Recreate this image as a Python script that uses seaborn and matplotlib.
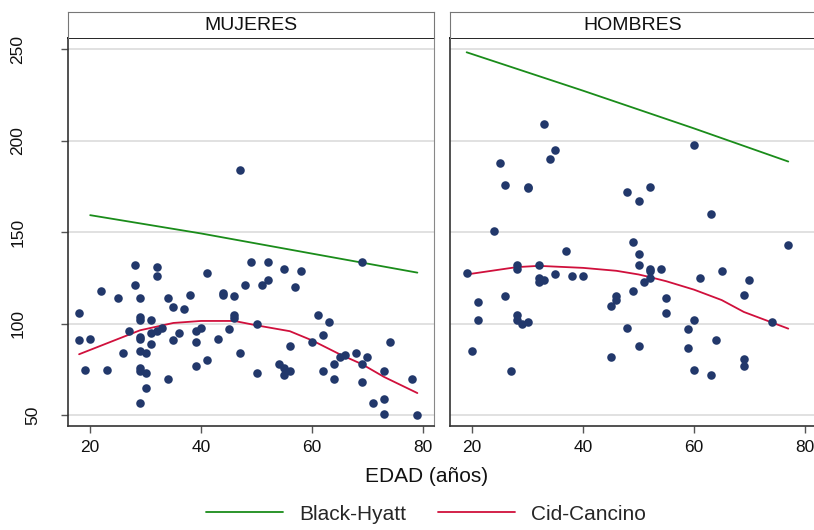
import numpy as np
import pandas as pd
import matplotlib
matplotlib.use('Agg')
import matplotlib.pyplot as plt
import seaborn as sns
from matplotlib.lines import Line2D

# 1. Data
panels = ['MUJERES', 'HOMBRES']

edad_muj = [18, 18, 19, 20, 22, 23, 25, 26, 27, 28, 28, 29, 29, 29, 29, 29, 29, 29, 29, 29,
            30, 30, 30, 31, 31, 31, 32, 32, 32, 33, 34, 34, 35, 35, 36, 37, 38, 39, 39, 39,
            40, 41, 41, 43, 44, 44, 45, 46, 46, 46, 47, 47, 48, 49, 50, 50, 51, 52, 52, 54,
            55, 55, 55, 56, 56, 57, 58, 60, 61, 62, 62, 63, 64, 64, 65, 66, 68, 69, 69, 69,
            70, 71, 73, 73, 73, 74, 78, 79]
val_muj = [106, 91, 75, 92, 118, 75, 114, 84, 96, 132, 121, 114, 104, 102, 93, 92, 85, 76, 74, 57,
           84, 73, 65, 102, 95, 89, 131, 126, 96, 98, 114, 70, 109, 91, 95, 108, 116, 96, 90, 77,
           98, 128, 80, 92, 117, 116, 97, 115, 105, 103, 184, 84, 121, 134, 100, 73, 121, 134, 124, 78,
           130, 76, 72, 88, 74, 120, 129, 90, 105, 94, 74, 101, 78, 70, 82, 83, 84, 134, 78, 68,
           82, 57, 74, 59, 51, 90, 70, 50]

edad_hom = [19, 20, 21, 21, 24, 25, 26, 26, 27, 28, 28, 28, 28, 29, 30, 30, 30, 32, 32, 32,
            33, 33, 34, 35, 35, 37, 38, 40, 45, 45, 46, 46, 48, 48, 49, 49, 50, 50, 50, 50,
            51, 52, 52, 52, 52, 54, 55, 55, 59, 59, 60, 60, 60, 61, 63, 63, 64, 65, 69, 69,
            69, 70, 74, 77]
val_hom = [128, 85, 112, 102, 151, 188, 176, 115, 74, 132, 130, 105, 102, 100, 175, 174, 101, 132, 125, 123,
           124, 209, 190, 195, 127, 140, 126, 126, 110, 82, 115, 113, 172, 98, 145, 118, 167, 138, 132, 88,
           123, 175, 130, 129, 125, 130, 114, 106, 97, 87, 198, 102, 75, 125, 160, 72, 91, 129, 116, 81,
           77, 124, 101, 143]

# Black-Hyatt reference line
bh_edad_muj = [20, 40, 60, 79]
bh_val_muj = [159.4, 149.4, 138.4, 128.0]
bh_edad_hom = [19, 40, 60, 77]
bh_val_hom = [248.4, 227.4, 206.8, 188.7]

# Cid-Cancino fitted curve
cc_edad_muj = [18, 29, 35, 40, 46, 50, 56, 60, 65, 69, 73, 79]
cc_val_muj = [83.4, 96.5, 100.5, 101.6, 101.6, 99.2, 96.0, 91.0, 83.4, 78.0, 71.0, 62.2]
cc_edad_hom = [19, 28, 32, 40, 46, 50, 52, 55, 60, 65, 69, 77]
cc_val_hom = [127.0, 131.0, 131.7, 130.6, 129.0, 127.0, 125.6, 123.3, 118.7, 113.0, 106.5, 97.4]

y_ticks = [50, 100, 150, 200, 250]
x_ticks = [20, 40, 60, 80]

pts = pd.concat([
    pd.DataFrame({'edad': edad_muj, 'valor': val_muj, 'sexo': 'MUJERES'}),
    pd.DataFrame({'edad': edad_hom, 'valor': val_hom, 'sexo': 'HOMBRES'}),
])
bh = {'MUJERES': pd.DataFrame({'edad': bh_edad_muj, 'valor': bh_val_muj}),
      'HOMBRES': pd.DataFrame({'edad': bh_edad_hom, 'valor': bh_val_hom})}
cc = {'MUJERES': pd.DataFrame({'edad': cc_edad_muj, 'valor': cc_val_muj}),
      'HOMBRES': pd.DataFrame({'edad': cc_edad_hom, 'valor': cc_val_hom})}

# 2. Style
sns.set_style('white')
plt.rcParams['font.family'] = ['Liberation Sans', 'DejaVu Sans']

navy = '#22386b'
green = '#1a8c1a'
red = '#d0103c'
grid_c = '#dedede'

W, H = 814, 530
fig = plt.figure(figsize=(W / 100, H / 100), dpi=100)

lefts = [68, 450]
for i, name in enumerate(panels):
    ax = fig.add_axes([lefts[i] / W, 104 / H, 366 / W, 388 / H])
    for y in y_ticks:
        ax.axhline(y, color=grid_c, lw=1.3, zorder=0)

    sns.lineplot(data=bh[name], x='edad', y='valor', color=green, lw=1.3, ax=ax, zorder=2)
    sns.lineplot(data=cc[name], x='edad', y='valor', color=red, lw=1.3, ax=ax, zorder=2)
    sns.scatterplot(data=pts[pts['sexo'] == name], x='edad', y='valor', color=navy,
                    s=38, linewidth=0, ax=ax, zorder=3)

    ax.set_xlim(16, 82)
    ax.set_ylim(44.2, 256.2)
    ax.set_xticks(x_ticks)
    ax.set_yticks(y_ticks)
    ax.set_xlabel('')
    ax.set_ylabel('')
    ax.tick_params(axis='x', length=5, width=1, color='#555555', labelsize=12.5, pad=5,
                   labelcolor='#111111', bottom=True)
    if i == 0:
        ax.tick_params(axis='y', length=5, width=1, color='#555555', labelsize=12.5,
                       labelcolor='#111111', left=True)
        for lab in ax.get_yticklabels():
            lab.set_rotation(90)
            lab.set_ha('center')
            lab.set_va('center')
        for t, y in zip(ax.yaxis.get_major_ticks(), y_ticks):
            t.set_pad(20 if y == 50 else 31)
    else:
        ax.tick_params(axis='y', length=0, labelleft=False)

    for side in ['left', 'bottom']:
        ax.spines[side].set_color('#333333')
        ax.spines[side].set_linewidth(1.2)
    ax.spines['top'].set_color('black')
    ax.spines['top'].set_linewidth(1.2)
    ax.spines['right'].set_color('#888888')
    ax.spines['right'].set_linewidth(0.8)

    # panel header strip
    sax = fig.add_axes([lefts[i] / W, 492 / H, 366 / W, 26 / H])
    sax.set_xticks([])
    sax.set_yticks([])
    for side in ['left', 'right', 'top']:
        sax.spines[side].set_color('#777777')
        sax.spines[side].set_linewidth(0.8)
    sax.spines['bottom'].set_visible(False)
    sax.text(0.5, 0.5, name, ha='center', va='center', fontsize=14, color='#111111',
             transform=sax.transAxes)

fig.text(427 / W, 1 - 477 / H, 'EDAD (años)', ha='center', va='center', fontsize=15,
         color='#111111')

handles = [Line2D([], [], color=green, lw=1.3), Line2D([], [], color=red, lw=1.3)]
fig.legend(handles, ['Black-Hyatt', 'Cid-Cancino'], loc='center', ncol=2,
           bbox_to_anchor=(426 / W, 1 - 514 / H), frameon=False, fontsize=15,
           handlelength=3.7, handletextpad=0.8, columnspacing=1.5)

fig.savefig('out.png', dpi=100)
